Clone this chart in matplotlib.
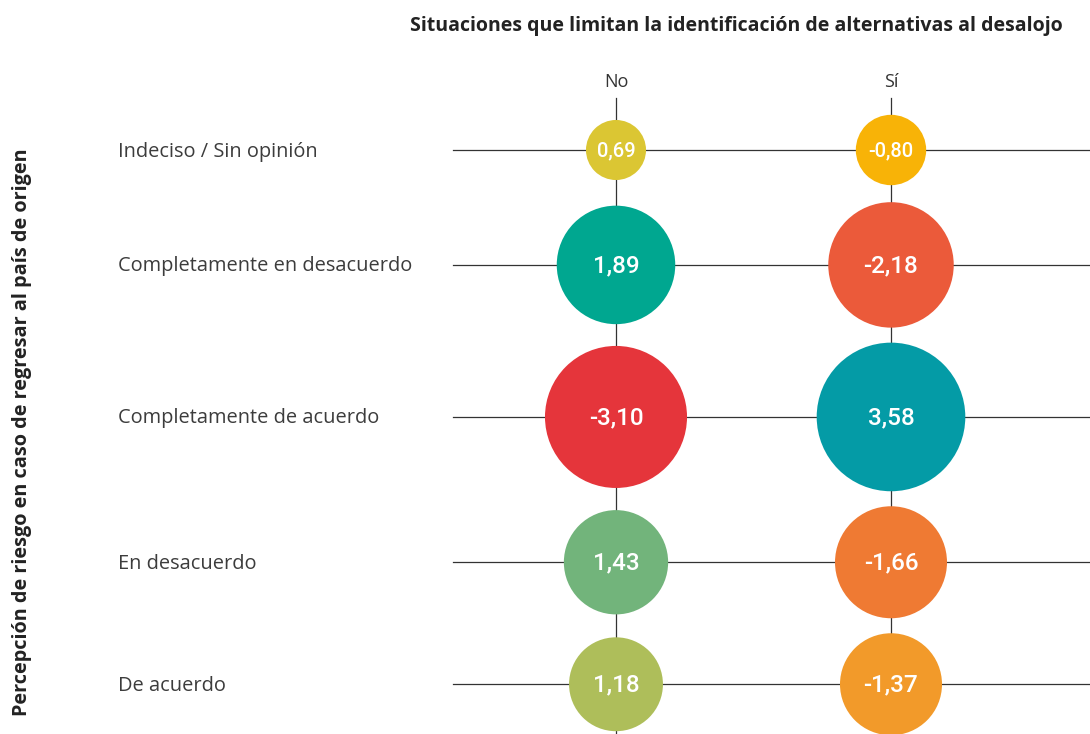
import numpy as np
import matplotlib
matplotlib.use("Agg")
import matplotlib.pyplot as plt
from matplotlib.patches import Circle

# data
title = "Situaciones que limitan la identificación de alternativas al desalojo"
y_title = "Percepción de riesgo en caso de regresar al país de origen"
columns = ["No", "Sí"]
rows = ["Indeciso / Sin opinión", "Completamente en desacuerdo",
        "Completamente de acuerdo", "En desacuerdo", "De acuerdo"]
values_no = [0.69, 1.89, -3.10, 1.43, 1.18]
values_si = [-0.80, -2.18, 3.58, -1.66, -1.37]
colors_no = ["#dbc633", "#00a790", "#e5353b", "#72b47b", "#aebe5a"]
colors_si = ["#f8b307", "#eb5a3a", "#049ba6", "#ef7a33", "#f29a2a"]

W, H = 1090, 734
fig = plt.figure(figsize=(W / 100, H / 100), dpi=100)
ax = fig.add_axes([0, 0, 1, 1])
ax.set_xlim(0, W)
ax.set_ylim(H, 0)
ax.axis("off")


def radius(v):
    # bubble radius grows with log of |value| (pixels)
    return 49.6 + 20.8 * np.log(abs(v) - 0.3)


vals = np.array([values_no, values_si]).T
cols = np.array([colors_no, colors_si]).T
col_x = [616, 891]

# row positions: stack rows so bubbles keep a small gap
row_r = [max(radius(v) for v in r) for r in vals]
row_y = [150.0]
for i in range(1, len(rows)):
    gap = 17 if i == 1 else 15
    row_y.append(row_y[-1] + row_r[i - 1] + row_r[i] + gap)

line_kw = dict(color="#333333", lw=0.9, zorder=1)
for y in row_y:
    ax.plot([453, W], [y, y], **line_kw)
for x in col_x:
    ax.plot([x, x], [98, H], **line_kw)

for i, y in enumerate(row_y):
    ax.text(118, y + 1.5, rows[i], ha="left", va="center", fontsize=14.4,
            family="Open Sans", color="#3c3c3c")
    for j, x in enumerate(col_x):
        v = vals[i, j]
        r = radius(v)
        ax.add_patch(Circle((x, y), r, facecolor=cols[i, j], edgecolor="none", zorder=2))
        fs = 14.5 if r < 45 else 17.5
        ax.text(x, y + 1, f"{v:.2f}".replace(".", ","), ha="center", va="center",
                fontsize=fs, family="Roboto", fontweight="medium",
                color="white", zorder=3)

for j, x in enumerate(col_x):
    ax.text(x, 82, columns[j], ha="center", va="center", fontsize=13,
            family="Open Sans", color="#333333")

ax.text(736, 26, title, ha="center", va="center", fontsize=14,
        family="Open Sans", fontweight="bold", color="#222222")
ax.text(22, 432, y_title, ha="center", va="center", rotation=90,
        fontsize=14.3, family="Open Sans", fontweight="bold", color="#222222")

fig.savefig("out.png", dpi=100)
